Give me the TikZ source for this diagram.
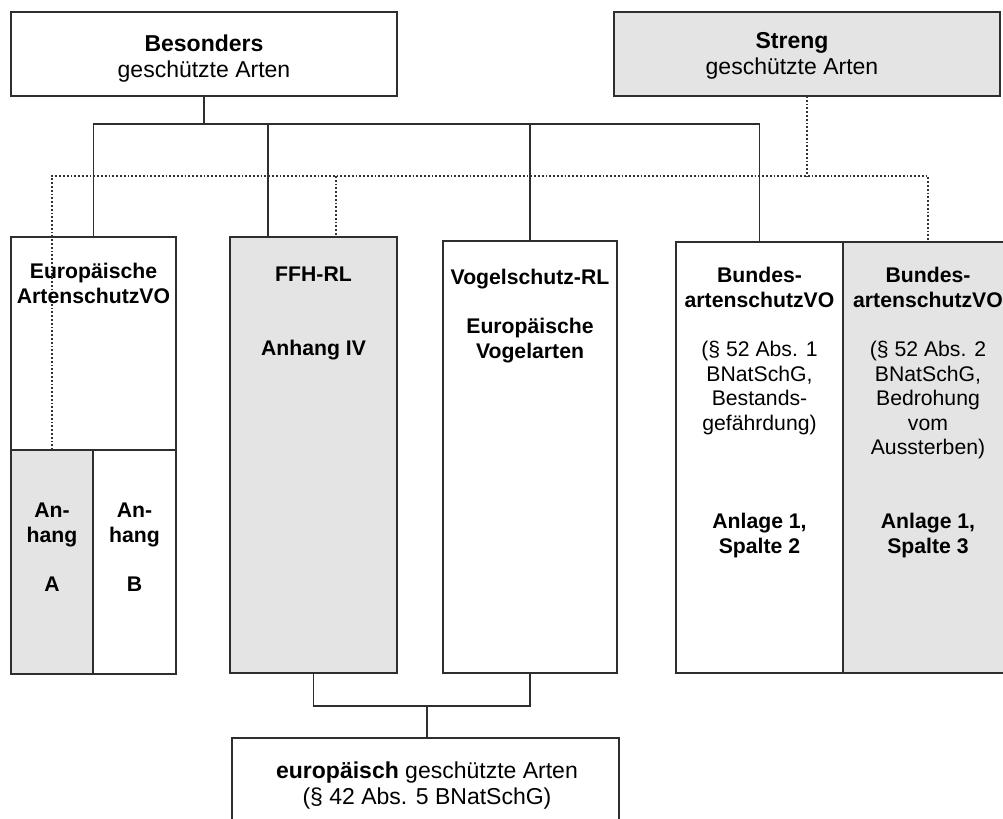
\documentclass[tikz,border=0pt]{standalone}
\usepackage{fontspec}
\setmainfont{Liberation Sans}
\usepackage{tikz}
\usetikzlibrary{positioning}
\definecolor{boxgray}{HTML}{E4E4E4}
\definecolor{linecol}{HTML}{2E2E2E}
\tikzset{
    kasten/.style = {rectangle, draw=linecol, line width=1pt, fill=white, inner sep=0pt, outer sep=0pt},
    kastengr/.style = {kasten, fill=boxgray},
    titel/.style = {align=center, anchor=north, inner sep=0pt, font=\fontsize{11.5}{13}\selectfont},
    spalte/.style = {align=center, anchor=north, inner sep=0pt, font=\fontsize{10.6}{12.3}\selectfont\bfseries},
    edgen/.style = {-, line width=0.9pt, linecol},
    edged/.style = {-, line width=0.9pt, black!80, densely dotted}
}

\begin{document}
\begin{tikzpicture}[x=0.5pt, y=-0.5pt]
\clip (0,0) rectangle (1003,819);
% boxes
\node[kasten, minimum width=193pt, minimum height=42pt] at (204,54) (bes) {};
\node[kastengr, minimum width=193pt, minimum height=42pt] at (807,54) (str) {};
\node[kasten, minimum width=82.5pt, minimum height=218.5pt] at (93.5,455.5) (eu) {};
\node[kastengr, minimum width=41pt, minimum height=112pt] at (52,562) (anhA) {};
\node[kasten, minimum width=41.5pt, minimum height=112pt] at (134.5,562) (anhB) {};
\node[kastengr, minimum width=83.5pt, minimum height=218pt] at (313.5,455) (ffh) {};
\node[kasten, minimum width=87pt, minimum height=216pt] at (530,457) (vog) {};
\node[kasten, minimum width=83.5pt, minimum height=215.5pt] at (759.5,457.5) (bav1) {};
\node[kastengr, minimum width=85pt, minimum height=215.5pt] at (928,457.5) (bav2) {};
\node[kasten, minimum width=193.5pt, minimum height=46pt] at (425.5,784) (eur) {};
%
\coordinate (j1) at (204,124);
\coordinate (f1) at (268,124);
\coordinate (d1) at (0,176);
\coordinate (f2) at (336,176);
\coordinate (u1) at (427,706);
% solid connectors
\draw[edgen] (bes.south) -- (bes.south |- j1);
\draw[edgen] (eu.north) |- (bav1.north |- j1) -- (bav1.north);
\draw[edgen] (f1) -- (f1 |- ffh.north);
\draw[edgen] (vog.north) -- (vog.north |- j1);
\draw[edgen] (ffh.south) |- (vog.south |- u1) -- (vog.south);
\draw[edgen] (u1) -- (u1 |- eur.north);
% dotted connectors
\draw[edged] (str.south) -- (str.south |- d1);
\draw[edged] (anhA.north) |- (bav2.north |- d1) -- (bav2.north);
\draw[edged] (f2) -- (f2 |- ffh.north);
% texts
\node[titel] at (204,34) (tbes) {\textbf{Besonders}\\geschützte Arten};
\node[titel] at (792,32) (tstr) {\textbf{Streng}\\geschützte Arten};
\node[spalte] at (93.5,263) (teu) {Europäische\\ArtenschutzVO};
\node[spalte] at (52,503) (tanhA) {An-\\hang\\[12.3pt]A};
\node[spalte] at (134.5,503) (tanhB) {An-\\hang\\[12.3pt]B};
\node[spalte] at (313.5,267) (tffh) {FFH-RL\\[24.6pt]Anhang IV};
\node[spalte] at (530,269) (tvog) {Vogelschutz-RL\\[12.3pt]Europäische\\Vogelarten};
\node[spalte] at (759.5,267) (tbav1) {Bundes-\\artenschutzVO\\[12.3pt]\mdseries(§ 52 Abs. 1\\\mdseries BNatSchG,\\\mdseries Bestands-\\\mdseries gefährdung)\\[36.9pt]Anlage 1,\\Spalte 2};
\node[spalte] at (928,267) (tbav2) {Bundes-\\artenschutzVO\\[12.3pt]\mdseries(§ 52 Abs. 2\\\mdseries BNatSchG,\\\mdseries Bedrohung\\\mdseries vom\\\mdseries Aussterben)\\[24.6pt]Anlage 1,\\Spalte 3};
\node[titel] at (427,761) (teur) {\textbf{europäisch} geschützte Arten\\(§ 42 Abs. 5 BNatSchG)};
\end{tikzpicture}
\end{document}
